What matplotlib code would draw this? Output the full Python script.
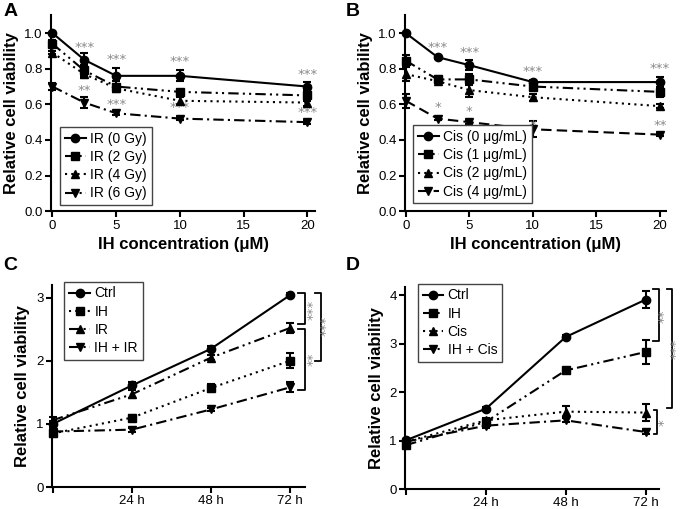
import matplotlib
matplotlib.use("Agg")
import matplotlib.pyplot as plt

plt.rcParams["font.family"] = ["Liberation Sans", "DejaVu Sans"]

# ---- data ----------------------------------------------------------------
conc = [0, 2.5, 5, 10, 20]
hours = [0, 24, 48, 72]

# Panel A: IR doses
ir_labels = ["IR (0 Gy)", "IR (2 Gy)", "IR (4 Gy)", "IR (6 Gy)"]
ir_0 = [1.00, 0.85, 0.76, 0.76, 0.70]
ir_2 = [0.94, 0.79, 0.70, 0.67, 0.65]
ir_4 = [0.89, 0.77, 0.69, 0.62, 0.61]
ir_6 = [0.70, 0.61, 0.55, 0.52, 0.50]
ir_0_err = [0.00, 0.04, 0.045, 0.03, 0.025]
ir_2_err = [0.02, 0.03, 0.03, 0.01, 0.03]
ir_4_err = [0.01, 0.02, 0.02, 0.02, 0.02]
ir_6_err = [0.02, 0.03, 0.01, 0.01, 0.01]
a_stars_top = ["***", "***", "***", "***"]
a_stars_top_y = [0.92, 0.85, 0.84, 0.77]
a_stars_bot = ["**", "***", "***", "***"]
a_stars_bot_y = [0.68, 0.60, 0.58, 0.555]

# Panel B: cisplatin doses
cis_labels = ["Cis (0 μg/mL)", "Cis (1 μg/mL)", "Cis (2 μg/mL)", "Cis (4 μg/mL)"]
cis_0 = [1.00, 0.865, 0.82, 0.725, 0.725]
cis_1 = [0.845, 0.74, 0.74, 0.70, 0.67]
cis_2 = [0.77, 0.73, 0.68, 0.64, 0.59]
cis_4 = [0.62, 0.52, 0.50, 0.46, 0.43]
cis_0_err = [0.00, 0.01, 0.03, 0.01, 0.03]
cis_1_err = [0.03, 0.02, 0.03, 0.02, 0.03]
cis_2_err = [0.04, 0.01, 0.04, 0.02, 0.01]
cis_4_err = [0.04, 0.01, 0.01, 0.045, 0.01]
b_stars_top = ["***", "***", "***", "***"]
b_stars_top_y = [0.92, 0.89, 0.785, 0.80]
b_stars_bot = ["*", "*", "*", "**"]
b_stars_bot_y = [0.58, 0.56, 0.48, 0.48]

# Panel C: time course IR
c_labels = ["Ctrl", "IH", "IR", "IH + IR"]
c_ctrl = [1.00, 1.61, 2.19, 3.04]
c_ih = [0.85, 1.10, 1.57, 2.00]
c_ir = [1.06, 1.47, 2.05, 2.52]
c_ihir = [0.88, 0.91, 1.23, 1.58]
c_ctrl_err = [0.05, 0.05, 0.04, 0.03]
c_ih_err = [0.05, 0.04, 0.07, 0.12]
c_ir_err = [0.05, 0.06, 0.04, 0.08]
c_ihir_err = [0.03, 0.03, 0.03, 0.08]

# Panel D: time course cisplatin
d_labels = ["Ctrl", "IH", "Cis", "IH + Cis"]
d_ctrl = [1.01, 1.66, 3.14, 3.91]
d_ih = [0.91, 1.39, 2.45, 2.83]
d_cis = [0.98, 1.42, 1.60, 1.58]
d_ihcis = [0.98, 1.31, 1.42, 1.18]
d_ctrl_err = [0.03, 0.04, 0.04, 0.17]
d_ih_err = [0.05, 0.05, 0.05, 0.25]
d_cis_err = [0.05, 0.05, 0.12, 0.18]
d_ihcis_err = [0.03, 0.04, 0.04, 0.05]

time_ticks = [0, 24, 48, 72]
time_ticklabels = ["", "24 h", "48 h", "72 h"]

# ---- styles --------------------------------------------------------------
SOLID = "-"
DOTTED = (0, (1, 2))
DASHDOT = (0, (5, 2, 1, 2))
DASHDOTDOT = (0, (5, 2, 1, 2, 1, 2))
DASHED = (0, (5, 2.5))
MARKERS = ["o", "s", "^", "v"]
STAR_COLOR = "#8a8a8a"
STAR_FS = 9.5
STAR_FONT = "DejaVu Sans"


def draw_series(ax, x, ys, errs, labels, styles):
    handles = []
    for y, e, lab, ls, mk in zip(ys, errs, labels, styles, MARKERS):
        cont = ax.errorbar(x, y, yerr=e, color="black", linestyle=ls,
                           linewidth=1.5, marker=mk, markersize=6, capsize=3,
                           elinewidth=1.5, capthick=1.5, label=lab,
                           clip_on=False, zorder=3)
        handles.append(cont[0])
    return handles


def style_axes(ax):
    for side in ["top", "right"]:
        ax.spines[side].set_visible(False)
    for side in ["left", "bottom"]:
        ax.spines[side].set_linewidth(1.5)
    ax.tick_params(direction="out", length=4, width=1.5, labelsize=9.5, pad=2)


def add_legend(ax, handles, labels, x0, y0):
    leg = ax.legend(handles, labels, loc="lower left", bbox_to_anchor=(x0, y0),
                    fontsize=10, handlelength=1.5, handletextpad=0.3,
                    borderpad=0.35, labelspacing=0.3, fancybox=False,
                    framealpha=1, borderaxespad=0)
    leg.get_frame().set_edgecolor("#444444")
    leg.get_frame().set_linewidth(1.0)


def star_row(ax, xs, texts, ys):
    for x, s, y in zip(xs, texts, ys):
        ax.text(x, y, s, ha="center", va="center", color=STAR_COLOR,
                fontsize=STAR_FS, family=STAR_FONT)


def bracket(ax, x_in, x_out, y_top, y_bot, text, tx, ty):
    ax.plot([x_in, x_out, x_out, x_in], [y_top, y_top, y_bot, y_bot],
            color="black", linewidth=1.3, clip_on=False)
    ax.text(tx, ty, text, rotation=90, ha="center", va="center",
            color=STAR_COLOR, fontsize=STAR_FS, family=STAR_FONT)


fig = plt.figure(figsize=(6.82, 5.09), dpi=100)

# ---- panel A -------------------------------------------------------------
axA = fig.add_axes([0.075, 0.585, 0.387, 0.385])
hA = draw_series(axA, conc, [ir_0, ir_2, ir_4, ir_6],
                 [ir_0_err, ir_2_err, ir_4_err, ir_6_err], ir_labels,
                 [SOLID, DASHDOTDOT, DOTTED, DASHDOT])
star_row(axA, conc[1:], a_stars_top, a_stars_top_y)
star_row(axA, conc[1:], a_stars_bot, a_stars_bot_y)
axA.set_xlim(-0.1, 20.6)
axA.set_ylim(0, 1.1)
axA.set_xticks([0, 5, 10, 15, 20])
axA.set_yticks([0.0, 0.2, 0.4, 0.6, 0.8, 1.0])
axA.set_yticklabels(["0.0", "0.2", "0.4", "0.6", "0.8", "1.0"])
style_axes(axA)
axA.set_xlabel("IH concentration (μM)", fontsize=12, fontweight="bold")
axA.set_ylabel("Relative cell viability", fontsize=12, fontweight="bold")
add_legend(axA, hA, ir_labels, 0.034, 0.03)

# ---- panel B -------------------------------------------------------------
axB = fig.add_axes([0.594, 0.585, 0.383, 0.385])
hB = draw_series(axB, conc, [cis_0, cis_1, cis_2, cis_4],
                 [cis_0_err, cis_1_err, cis_2_err, cis_4_err], cis_labels,
                 [SOLID, DASHDOTDOT, DOTTED, DASHED])
star_row(axB, conc[1:], b_stars_top, b_stars_top_y)
star_row(axB, conc[1:], b_stars_bot, b_stars_bot_y)
axB.set_xlim(-0.05, 20.5)
axB.set_ylim(0, 1.1)
axB.set_xticks([0, 5, 10, 15, 20])
axB.set_yticks([0.0, 0.2, 0.4, 0.6, 0.8, 1.0])
axB.set_yticklabels(["0.0", "0.2", "0.4", "0.6", "0.8", "1.0"])
style_axes(axB)
axB.set_xlabel("IH concentration (μM)", fontsize=12, fontweight="bold")
axB.set_ylabel("Relative cell viability", fontsize=12, fontweight="bold")
add_legend(axB, hB, cis_labels, 0.03, 0.04)

# ---- panel C -------------------------------------------------------------
axC = fig.add_axes([0.076, 0.043, 0.371, 0.397])
hC = draw_series(axC, hours, [c_ctrl, c_ih, c_ir, c_ihir],
                 [c_ctrl_err, c_ih_err, c_ir_err, c_ihir_err], c_labels,
                 [SOLID, DOTTED, DASHDOTDOT, DASHDOT])
axC.set_xlim(-0.3, 76.5)
axC.set_ylim(0, 3.2)
axC.set_xticks(time_ticks)
axC.set_xticklabels(time_ticklabels)
axC.set_yticks([0, 1, 2, 3])
style_axes(axC)
axC.set_ylabel("Relative cell viability", fontsize=12, fontweight="bold")
add_legend(axC, hC, c_labels, 0.05, 0.63)
bracket(axC, 74.5, 76.6, 3.08, 2.58, "***", 79.0, 2.81)
bracket(axC, 74.5, 76.6, 2.50, 1.53, "**", 79.0, 2.02)
bracket(axC, 79.7, 81.4, 3.08, 1.99, "***", 83.0, 2.55)

# ---- panel D -------------------------------------------------------------
axD = fig.add_axes([0.594, 0.039, 0.372, 0.397])
hD = draw_series(axD, hours, [d_ctrl, d_ih, d_cis, d_ihcis],
                 [d_ctrl_err, d_ih_err, d_cis_err, d_ihcis_err], d_labels,
                 [SOLID, DASHDOTDOT, DOTTED, DASHDOT])
axD.set_xlim(-0.3, 76.0)
axD.set_ylim(0, 4.17)
axD.set_xticks(time_ticks)
axD.set_xticklabels(time_ticklabels)
axD.set_yticks([0, 1, 2, 3, 4])
style_axes(axD)
axD.set_ylabel("Relative cell viability", fontsize=12, fontweight="bold")
add_legend(axD, hD, d_labels, 0.05, 0.63)
bracket(axD, 74.3, 76.1, 4.12, 3.05, "**", 77.6, 3.57)
bracket(axD, 78.5, 80.0, 4.12, 1.67, "***", 81.2, 2.89)
bracket(axD, 74.6, 75.6, 1.63, 1.13, "*", 77.6, 1.38)

# ---- panel letters -------------------------------------------------------
for lab, x, y in [("A", 0.005, 0.978), ("B", 0.507, 0.978),
                  ("C", 0.005, 0.478), ("D", 0.507, 0.478)]:
    fig.text(x, y, lab, fontsize=14, fontweight="bold", va="center", ha="left")

fig.savefig("out.png", dpi=100)
